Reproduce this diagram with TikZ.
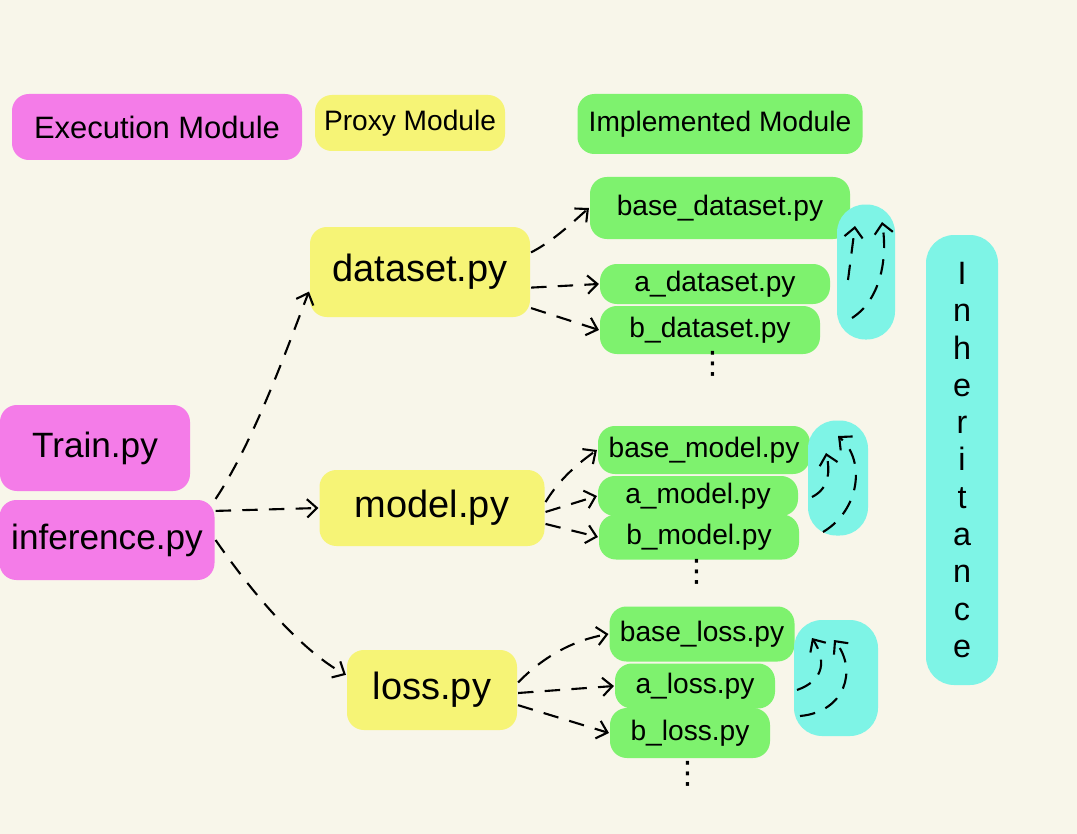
\documentclass[tikz,border=0pt]{standalone}
\usepackage{fontspec}
\setmainfont{Liberation Sans}
\newfontfamily\dotsfont{DejaVu Sans}
\usetikzlibrary{arrows.meta,positioning}
\definecolor{paper}{RGB}{248,246,234}
\definecolor{execpink}{RGB}{244,124,232}
\definecolor{proxyyellow}{RGB}{246,244,118}
\definecolor{implgreen}{RGB}{126,242,110}
\definecolor{inhcyan}{RGB}{126,244,230}

\begin{document}
\begin{tikzpicture}[x=0.025cm,y=-0.025cm,
	>={Straight Barb[length=7pt,width=13pt]},line width=1.5pt,
	dep/.style={->,dash pattern=on 11pt off 8pt},
	blob/.style 2 args={rounded corners=12pt,inner sep=0pt,
		minimum width=#1*0.025cm,minimum height=#2*0.025cm},
	exec node/.style={fill=execpink,font=\fontsize{25}{30}\selectfont},
	proxy node/.style={fill=proxyyellow,font=\fontsize{27}{32}\selectfont},
	impl node/.style={fill=implgreen,font=\fontsize{20}{24}\selectfont},
	inh node/.style={fill=inhcyan,rounded corners=20pt},
	more/.style={inner sep=0pt,font=\dotsfont\fontsize{22}{24}\selectfont},
	header/.style={font=\fontsize{20}{24}\selectfont}]
	\fill[paper] (0,0) rectangle (1077,834);
	\useasboundingbox (0,0) rectangle (1077,834);

	% headers
	\node[blob={290}{66},exec node,font=\fontsize{22}{26}\selectfont] (execmod) at (157,127) {Execution Module};
	\node[blob={190}{56},proxy node,header] (proxymod) at (410,123) {Proxy Module};
	\node[blob={285}{60},impl node,header] (implmod) at (720,124) {Implemented Module};

	% execution
	\node[blob={190}{86},exec node] (train) at (95,448) {Train.py};
	\node[blob={215}{80},exec node] (infer) at (107,540) {inference.py};

	% proxy
	\node[blob={220}{90},proxy node] (dataset) at (420,272) {dataset.py};
	\node[blob={225}{76},proxy node] (model) at (432,508) {model.py};
	\node[blob={170}{80},proxy node] (loss) at (432,690) {loss.py};

	% implemented
	\node[blob={260}{62},impl node] (basedataset) at (720,208) {base\_dataset.py};
	\node[blob={230}{40},impl node] (adataset) at (715,284) {a\_dataset.py};
	\node[blob={220}{48},impl node] (bdataset) at (710,330) {b\_dataset.py};
	\node[more] (moredataset) at (713,364) {⋮};

	\node[blob={212}{48},impl node] (basemodel) at (704,450) {base\_model.py};
	\node[blob={200}{40},impl node] (amodel) at (698,496) {a\_model.py};
	\node[blob={200}{45},impl node] (bmodel) at (699,537) {b\_model.py};
	\node[more] (moremodel) at (697,572) {⋮};

	\node[blob={185}{55},impl node] (baseloss) at (702,634) {base\_loss.py};
	\node[blob={160}{45},impl node] (aloss) at (695,686) {a\_loss.py};
	\node[blob={160}{50},impl node] (bloss) at (690,733) {b\_loss.py};
	\node[more] (moreloss) at (688,774) {⋮};

	% inheritance
	\node[blob={58}{135},inh node] (inhdataset) at (866,272) {};
	\node[blob={60}{115},inh node] (inhmodel) at (838,478) {};
	\node[blob={84}{116},inh node] (inhloss) at (836,678) {};
	\node[blob={72}{450},inh node,align=center,font=\fontsize{23}{26.5}\selectfont]
		(inherit) at (962,460) {I\\n\\h\\e\\r\\i\\t\\a\\n\\c\\e};

	\coordinate (dsA1) at (848,280); \coordinate (dsA2) at (855,226);
	\coordinate (dsB1) at (852,318); \coordinate (dsB2) at (882,222);
	\coordinate (mdA1) at (812,497); \coordinate (mdA2) at (826,453);
	\coordinate (mdB1) at (823,532); \coordinate (mdB2) at (838,436);
	\coordinate (lsA1) at (797,690); \coordinate (lsA2) at (812,638);
	\coordinate (lsB1) at (800,716); \coordinate (lsB2) at (834,640);

	\draw[dep] (dsA1) -- (dsA2);
	\draw[dep] (dsB1) .. controls (880,300) and (888,260) .. (dsB2);
	\draw[dep] (mdA1) .. controls (830,488) and (830,470) .. (mdA2);
	\draw[dep] (mdB1) .. controls (860,510) and (866,460) .. (mdB2);
	\draw[dep] (lsA1) .. controls (825,680) and (826,660) .. (lsA2);
	\draw[dep] (lsB1) .. controls (845,712) and (858,670) .. (lsB2);

	% execution -> proxy
	\draw[dep] (infer.north east) .. controls (255,440) and (290,340) .. (dataset.190);
	\draw[dep] (infer.15) -- (model.west);
	\draw[dep] (infer.east) .. controls (250,590) and (300,650) .. (loss.170);

	% proxy -> implemented
	\draw[dep] (dataset.10) .. controls (555,240) and (575,220) .. (basedataset.west);
	\draw[dep] (dataset.-8) -- (adataset.west);
	\draw[dep] (dataset.-18) -- (bdataset.west);
	\draw[dep] (model.3) .. controls (560,478) and (580,462) .. (basemodel.west);
	\draw[dep] (model.-2) -- (amodel.west);
	\draw[dep] (model.-8) -- (bmodel.west);
	\draw[dep] (loss.5) .. controls (545,655) and (575,640) .. (baseloss.west);
	\draw[dep] (loss.-2) -- (aloss.west);
	\draw[dep] (loss.-10) -- (bloss.west);
\end{tikzpicture}
\end{document}
